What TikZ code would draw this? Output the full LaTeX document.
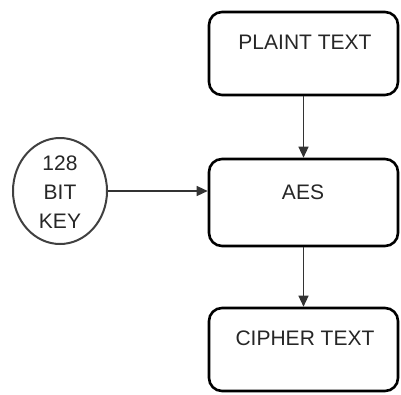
\documentclass[tikz,border=0pt]{standalone}
\usepackage{fontspec}
\setmainfont{Liberation Sans}
\usetikzlibrary{arrows.meta,shapes.geometric}
\begin{document}
\begin{tikzpicture}[x=1pt,y=-1pt,
  box/.style={draw=black,line width=2.6pt,rounded corners=13pt,minimum width=189pt,minimum height=83pt,inner sep=0pt},
  lbl/.style={font=\fontsize{21}{29}\selectfont,text=black!85,inner sep=0pt},
  keyc/.style={draw=black!75,line width=2pt,ellipse,minimum width=94pt,minimum height=106pt,inner sep=0pt},
  conn/.style={draw=black!80,line width=1.3pt,-{Triangle[length=11pt,width=10pt]}}]
\useasboundingbox (0,0) rectangle (401,394);
\node[box] (plain) at (303.5,53.5) {};
\node[lbl] (plaint) at (305,42) {PLAINT TEXT};
\node[box,minimum height=87pt] (aes) at (303.5,202.5) {};
\node[lbl] (aest) at (303,192) {AES};
\node[box] (cipher) at (303.5,349.5) {};
\node[lbl] (ciphert) at (305,338) {CIPHER TEXT};
\node[keyc] (key) at (60,191) {};
\node[lbl,align=center] (keyt) at (60,192) {128\\BIT\\KEY};
\draw[conn] (plain.south) -- (aes.north);
\draw[conn] (aes.south) -- (cipher.north);
\draw[conn] (key.east) -- (aes.west |- key.east);
\end{tikzpicture}
\end{document}
